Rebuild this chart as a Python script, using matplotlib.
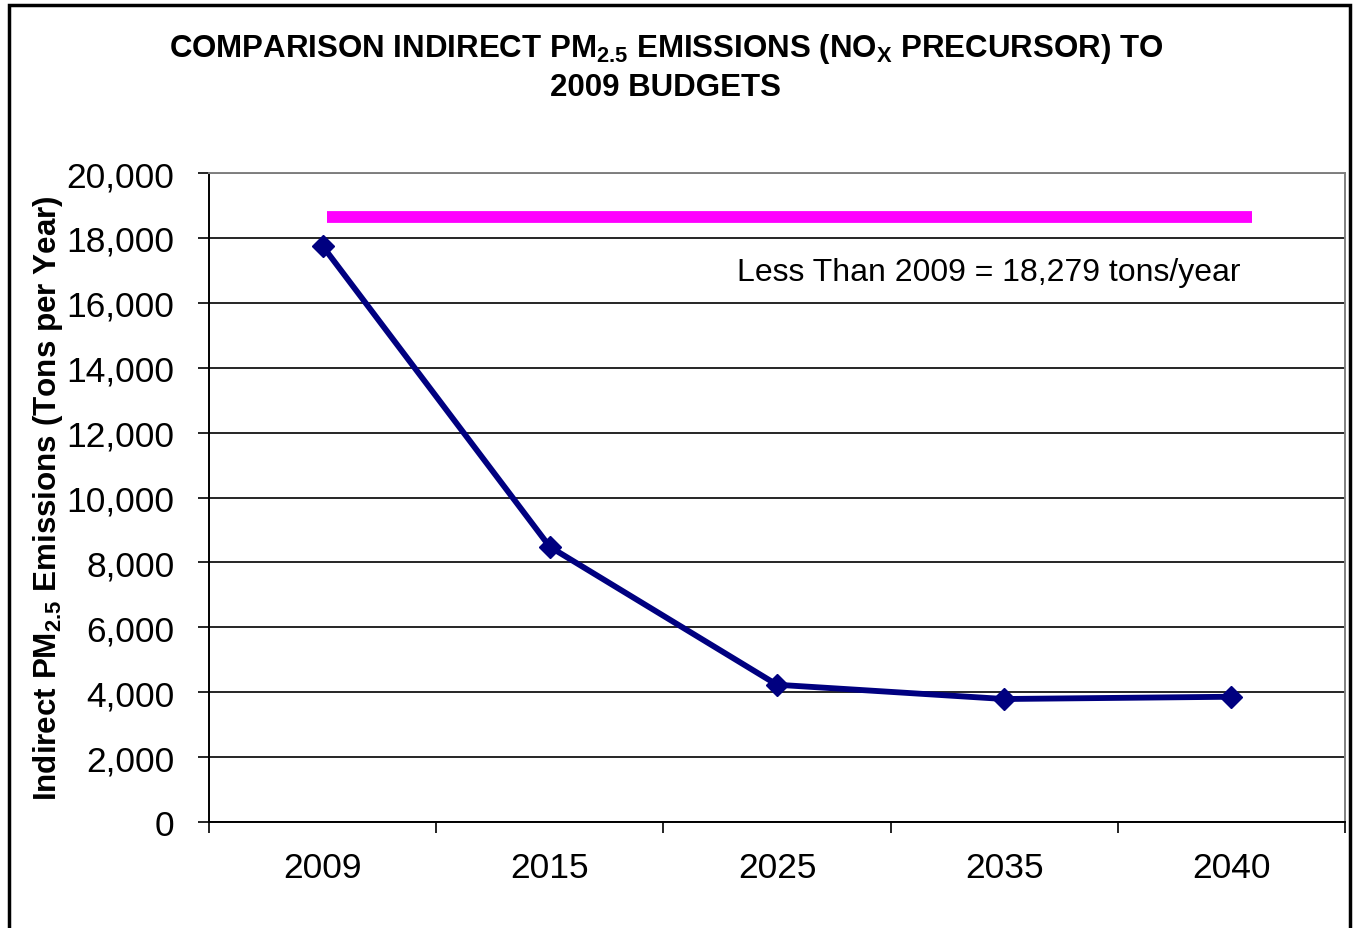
import matplotlib
matplotlib.use('Agg')
import matplotlib.pyplot as plt
from matplotlib.patches import Rectangle

# Indirect PM2.5 emissions (NOx precursor) vs the 2009 budget

years = ['2009', '2015', '2025', '2035', '2040']
emissions = [17750, 8480, 4230, 3790, 3860]
budget = 18650
budget_label = 'Less Than 2009 = 18,279 tons/year'

plt.rcParams['font.family'] = ['Liberation Sans', 'DejaVu Sans']
plt.rcParams['mathtext.fontset'] = 'custom'
plt.rcParams['mathtext.rm'] = 'Liberation Sans'
plt.rcParams['mathtext.bf'] = 'Liberation Sans:bold'

fig = plt.figure(figsize=(13.54, 9.29), dpi=100)
ax = fig.add_axes([209/1354, 1-823/929, (1345-209)/1354, (823-174)/929])

x = list(range(len(years)))
ax.plot(x, emissions, color='#000080', lw=4.2, marker='D', markersize=11,
        zorder=3)
ax.hlines(budget, 0.02, 4.09, color='#ff00ff', lw=8.5, zorder=3)
ax.text(2.93, 16950, budget_label, fontsize=23, ha='center', va='center')

ax.set_xlim(-0.5, 4.5)
ax.set_ylim(0, 20000)
ax.set_yticks(range(0, 20001, 2000))
ax.set_yticklabels([f'{v:,}' for v in range(0, 20001, 2000)], fontsize=25.5)
ax.tick_params(axis='y', direction='out', length=8, width=1.2, pad=17)

ax.set_xticks([i - 0.5 for i in range(len(years) + 1)])
ax.set_xticklabels([])
ax.set_xticks(x, minor=True)
ax.set_xticklabels(years, minor=True, fontsize=25.5)
ax.tick_params(axis='x', which='major', direction='out', length=8, width=1.2)
ax.tick_params(axis='x', which='minor', length=0, pad=21)

ax.grid(axis='y', color='black', lw=1.2)
ax.set_axisbelow(True)
for s in ['left', 'bottom']:
    ax.spines[s].set_color('black')
    ax.spines[s].set_linewidth(1.4)
for s in ['top', 'right']:
    ax.spines[s].set_color('#808080')
    ax.spines[s].set_linewidth(1.4)

ax.set_ylabel(r'Indirect PM$_{\mathbf{2.5}}$ Emissions (Tons per Year)',
              fontsize=22.6, fontweight='bold')
ax.yaxis.set_label_coords(-0.127, 0.5)

fig.text(666/1354, 1-49/929,
         r'COMPARISON INDIRECT PM$_{\mathbf{2.5}}$ EMISSIONS (NO$_{\mathbf{X}}$ PRECURSOR) TO',
         fontsize=22.5, fontweight='bold', ha='center', va='center')
fig.text(666/1354, 1-88/929, '2009 BUDGETS', fontsize=22.5,
         fontweight='bold', ha='center', va='center')

fig.patches.append(Rectangle((9/1354, -0.05), (1350-9)/1354, 1.05-5.5/929,
                             transform=fig.transFigure, fill=False,
                             edgecolor='black', lw=2.5))

plt.savefig('out.png', dpi=100)
